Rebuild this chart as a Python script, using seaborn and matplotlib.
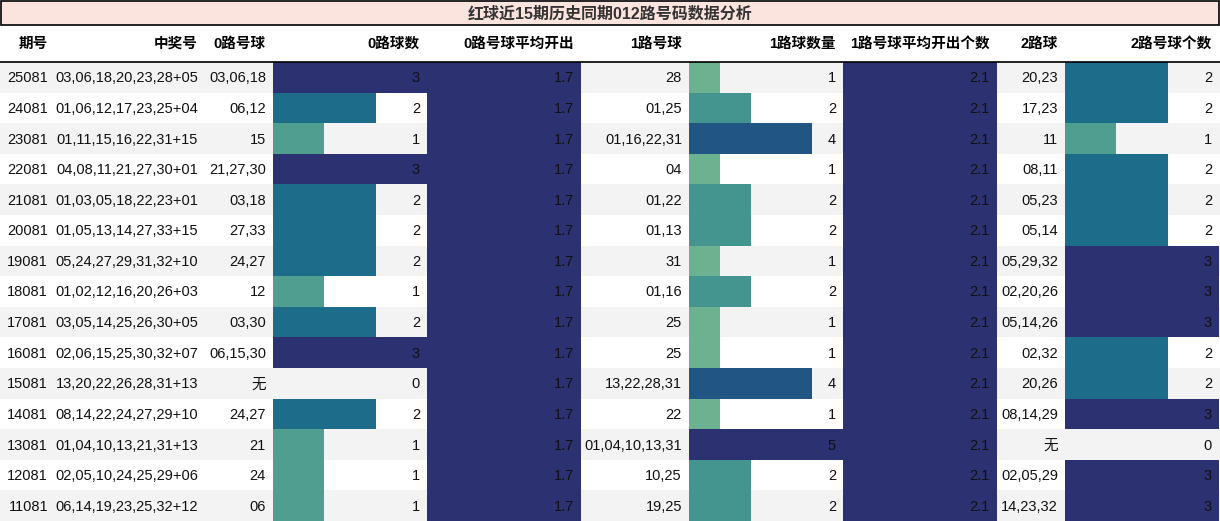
import matplotlib
matplotlib.use("Agg")
import matplotlib.pyplot as plt
import seaborn as sns
import numpy as np

sns.set_theme(style="white")
plt.rcParams['font.family'] = ['Liberation Sans', 'Noto Sans CJK SC', 'DejaVu Sans']

title = "红球近15期历史同期012路号码数据分析"
headers = ["期号", "中奖号", "0路号球", "0路球数", "0路号球平均开出", "1路号球", "1路球数量", "1路号球平均开出个数", "2路球", "2路号球个数"]
periods = ["25081","24081","23081","22081","21081","20081","19081","18081","17081","16081","15081","14081","13081","12081","11081"]
draws = ["03,06,18,20,23,28+05","01,06,12,17,23,25+04","01,11,15,16,22,31+15","04,08,11,21,27,30+01",
         "01,03,05,18,22,23+01","01,05,13,14,27,33+15","05,24,27,29,31,32+10","01,02,12,16,20,26+03",
         "03,05,14,25,26,30+05","02,06,15,25,30,32+07","13,20,22,26,28,31+13","08,14,22,24,27,29+10",
         "01,04,10,13,21,31+13","02,05,10,24,25,29+06","06,14,19,23,25,32+12"]
balls0 = ["03,06,18","06,12","15","21,27,30","03,18","27,33","24,27","12","03,30","06,15,30","无","24,27","21","24","06"]
count0 = [3,2,1,3,2,2,2,1,2,3,0,2,1,1,1]
avg0 = [1.7]*15
balls1 = ["28","01,25","01,16,22,31","04","01,22","01,13","31","01,16","25","25","13,22,28,31","22","01,04,10,13,31","10,25","19,25"]
count1 = [1,2,4,1,2,2,1,2,1,1,4,1,5,2,2]
avg1 = [2.1]*15
balls2 = ["20,23","17,23","11","08,11","05,23","05,14","05,29,32","02,20,26","05,14,26","02,32","20,26","08,14,29","无","02,05,29","14,23,32"]
count2 = [2,2,1,2,2,2,3,3,3,2,2,3,0,3,3]

W, H = 1220, 521
edges = [0, 55, 205, 273, 427, 581, 689, 843, 997, 1065, 1219]
top = 62
rh = (H - top) / 15

fig = plt.figure(figsize=(12.2, 5.21), dpi=100)
ax = fig.add_axes([0, 0, 1, 1])
ax.set_xlim(0, W)
ax.set_ylim(H, 0)
ax.axis('off')

# title
ax.add_patch(plt.Rectangle((1, 1), W - 2, 24, facecolor="#fce4de", edgecolor="black", lw=1.2))
ax.text(W / 2, 13.5, title, ha="center", va="center", fontsize=11.5, fontweight="bold", color="#333333")

# headers
for i, h in enumerate(headers):
    ax.text(edges[i + 1] - 7, 44, h, ha="right", va="center", fontsize=10.5, fontweight="bold", color="black")
ax.plot([0, W], [top - 0.5, top - 0.5], color="black", lw=1.2)

yc = top + rh * (np.arange(15) + 0.5)
# stripes
ax.barh(yc, [W] * 15, left=0, height=rh, color=["#f3f3f3" if i % 2 == 0 else "white" for i in range(15)], lw=0)

cmap = sns.color_palette("crest", as_cmap=True)
def bars(col, vals, vmax):
    x0, x1 = edges[col], edges[col + 1]
    w = x1 - x0
    v = np.array(vals, dtype=float)
    ax.barh(yc, v / vmax * w, left=x0, height=rh, color=[cmap(min(a / vmax, 1.0)) for a in v], lw=0)

bars(3, count0, 3)
bars(4, avg0, 1.7)
bars(6, count1, 5)
bars(7, avg1, 2.1)
bars(9, count2, 3)

cols = [periods, draws, balls0, count0, avg0, balls1, count1, avg1, balls2, count2]
for ci, data in enumerate(cols):
    for r, val in enumerate(data):
        txt = str(val)
        ax.text(edges[ci + 1] - 7, yc[r] + 1, txt, ha="right", va="center", fontsize=10.5, color="#111111")

fig.savefig("out.png", dpi=100)
